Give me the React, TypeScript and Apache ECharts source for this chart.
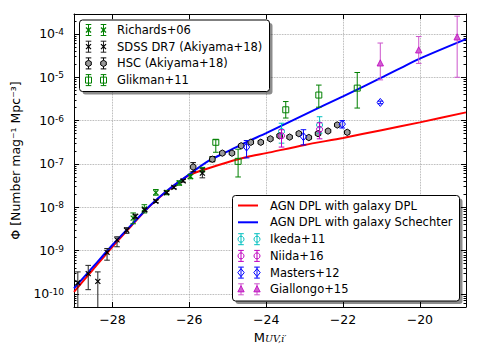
import React, { useEffect, useRef } from "react";
import * as echarts from "echarts";

// ---------- tick labels ----------
const xTickValues = [-28, -26, -24, -22, -20];
const yTickExponents = [-10, -9, -8, -7, -6, -5, -4];

// ---------- model curves (log10 Phi) ----------
const curveMag = [-29, -28.5, -28, -27.5, -27, -26.5, -26, -25.5, -25, -24.5, -24, -23, -22, -21, -20, -18.8];
const agnDplGalaxyDpl = [-9.95, -9.43, -8.91, -8.42, -7.95, -7.57, -7.26, -7.1, -6.96, -6.84, -6.75, -6.56, -6.4, -6.22, -6.04, -5.81];
const agnDplGalaxySchechter = [-9.87, -9.37, -8.87, -8.4, -7.94, -7.56, -7.24, -6.93, -6.71, -6.49, -6.29, -5.86, -5.44, -5.01, -4.57, -4.12];

// ---------- data points: [M, log10 Phi, log10 low, log10 high] ----------
const richards06 = [
  [-27.46, -8.25, -8.38, -8.13],
  [-27.17, -8.04, -8.13, -7.94],
  [-26.87, -7.66, -7.72, -7.59],
  [-26.59, -7.66, -7.71, -7.61],
  [-26.26, -7.44, -7.49, -7.39],
  [-25.97, -7.29, -7.34, -7.24],
  [-25.66, -7.13, -7.18, -7.08],
  [-25.4, -6.89, -6.94, -6.84],
];
const sdssDr7 = [
  [-28.9, -9.74, -10.5, -9.49],
  [-28.63, -9.53, -9.9, -9.34],
  [-28.38, -9.71, -10.5, -9.49],
  [-28.14, -9.04, -9.22, -8.95],
  [-27.88, -8.75, -8.91, -8.68],
  [-27.63, -8.53, -8.6, -8.47],
  [-27.4, -8.21, -8.26, -8.16],
  [-27.16, -8.06, -8.1, -8.02],
  [-26.87, -7.86, -7.89, -7.83],
  [-26.59, -7.66, -7.69, -7.63],
  [-26.4, -7.54, -7.57, -7.51],
  [-26.16, -7.39, -7.42, -7.36],
  [-25.66, -7.21, -7.32, -7.11],
];
const hscAkiyama = [
  [-25.9, -7.07, -7.18, -6.97],
  [-25.4, -6.89, -6.95, -6.83],
  [-25.14, -6.75, -6.78, -6.72],
  [-24.89, -6.75, -6.78, -6.72],
  [-24.65, -6.58, -6.61, -6.55],
  [-24.4, -6.5, -6.53, -6.47],
  [-24.14, -6.5, -6.53, -6.47],
  [-23.89, -6.42, -6.45, -6.39],
  [-23.65, -6.35, -6.38, -6.32],
  [-23.39, -6.38, -6.41, -6.35],
  [-23.15, -6.3, -6.33, -6.27],
  [-22.89, -6.39, -6.42, -6.36],
  [-22.65, -6.3, -6.33, -6.27],
  [-22.39, -6.24, -6.27, -6.21],
  [-22.15, -6.1, -6.13, -6.07],
  [-21.89, -6.27, -6.3, -6.24],
];
const glikman11 = [
  [-25.31, -6.5, -6.73, -6.44],
  [-24.73, -6.94, -7.3, -6.66],
  [-23.49, -5.75, -5.94, -5.56],
  [-22.63, -5.41, -5.69, -5.18],
  [-21.63, -5.25, -5.71, -4.89],
];
const ikeda11 = [
  [-23.6, -6.25, -6.52, -6.06],
  [-22.61, -6.1, -6.29, -5.91],
];
const niida16 = [
  [-23.6, -6.35, -6.61, -6.21],
  [-22.61, -6.2, -6.42, -6.05],
];
const masters12 = [
  [-24.51, -6.61, -6.86, -6.46],
  [-23.03, -6.37, -6.56, -6.21],
  [-22.02, -6.08, -6.17, -6.0],
  [-21.03, -5.58, -5.61, -5.55],
];
const giallongo15 = [
  [-21.03, -4.68, -5.06, -4.21],
  [-20.03, -4.38, -4.68, -4.06],
  [-19.03, -4.08, -5.0, -3.59],
];

// ---------- series names ----------
const curveNames = ["AGN DPL with galaxy DPL", "AGN DPL with galaxy Schechter"];
const upperLegendNames = ["Richards+06", "SDSS DR7 (Akiyama+18)", "HSC (Akiyama+18)", "Glikman+11"];
const lowerLegendNames = ["Ikeda+11", "Niida+16", "Masters+12", "Giallongo+15"];

type Kind = "x" | "hex" | "square" | "circle" | "diamond" | "triangle";
interface PtStyle {
  kind: Kind;
  color: string;
  fill: string;
  bar: string;
}

const FONT = "DejaVu Sans";
const curveColors = ["#ff0000", "#0000ff"];

const pointSets: { name: string; data: number[][]; st: PtStyle }[] = [
  { name: upperLegendNames[0], data: richards06, st: { kind: "x", color: "#008000", fill: "none", bar: "#008000" } },
  { name: upperLegendNames[1], data: sdssDr7, st: { kind: "x", color: "#000000", fill: "none", bar: "#222222" } },
  { name: upperLegendNames[2], data: hscAkiyama, st: { kind: "hex", color: "#000000", fill: "#9a9a9a", bar: "#000000" } },
  { name: upperLegendNames[3], data: glikman11, st: { kind: "square", color: "#008000", fill: "none", bar: "#008000" } },
  { name: lowerLegendNames[0], data: ikeda11, st: { kind: "circle", color: "#00bfbf", fill: "none", bar: "#00bfbf" } },
  { name: lowerLegendNames[1], data: niida16, st: { kind: "circle", color: "#bf00bf", fill: "none", bar: "#bf00bf" } },
  { name: lowerLegendNames[2], data: masters12, st: { kind: "diamond", color: "#0000ff", fill: "none", bar: "#0000ff" } },
  { name: lowerLegendNames[3], data: giallongo15, st: { kind: "triangle", color: "#bf00bf", fill: "#d060d0", bar: "#cc55cc" } },
];

function markerEls(kind: Kind, cx: number, cy: number, color: string, fill: string): any[] {
  const s = { stroke: color, lineWidth: 1, fill };
  switch (kind) {
    case "x":
      return [
        { type: "line", shape: { x1: cx - 2.5, y1: cy - 2.5, x2: cx + 2.5, y2: cy + 2.5 }, style: { stroke: color, lineWidth: 1.2 } },
        { type: "line", shape: { x1: cx - 2.5, y1: cy + 2.5, x2: cx + 2.5, y2: cy - 2.5 }, style: { stroke: color, lineWidth: 1.2 } },
      ];
    case "hex": {
      const pts: number[][] = [];
      for (let i = 0; i < 6; i++) {
        const a = Math.PI / 2 + (i * Math.PI) / 3;
        pts.push([cx + 3.2 * Math.cos(a), cy + 3.2 * Math.sin(a)]);
      }
      return [{ type: "polygon", shape: { points: pts }, style: s }];
    }
    case "square":
      return [{ type: "rect", shape: { x: cx - 3, y: cy - 3, width: 6, height: 6 }, style: s }];
    case "circle":
      return [{ type: "circle", shape: { cx, cy, r: 3 }, style: s }];
    case "diamond":
      return [{ type: "polygon", shape: { points: [[cx, cy - 4], [cx + 3.2, cy], [cx, cy + 4], [cx - 3.2, cy]] }, style: s }];
    case "triangle":
      return [{ type: "polygon", shape: { points: [[cx, cy - 3.6], [cx + 3.2, cy + 2.6], [cx - 3.2, cy + 2.6]] }, style: { ...s, lineWidth: 0.8 } }];
  }
  return [];
}

function errorBarEls(cx: number, yTop: number, yBot: number, color: string): any[] {
  const cap = 2.8;
  const st = { stroke: color, lineWidth: 1 };
  return [
    { type: "line", shape: { x1: cx, y1: yTop, x2: cx, y2: yBot }, style: st },
    { type: "line", shape: { x1: cx - cap, y1: yTop, x2: cx + cap, y2: yTop }, style: st },
    { type: "line", shape: { x1: cx - cap, y1: yBot, x2: cx + cap, y2: yBot }, style: st },
  ];
}

function makeRenderer(st: PtStyle) {
  return (_params: any, api: any) => {
    const x = api.value(0);
    const y = api.value(1);
    const lo = api.value(2);
    const hi = api.value(3);
    const c = api.coord([x, y]);
    const pLo = api.coord([x, lo])[1];
    const pHi = api.coord([x, hi])[1];
    return {
      type: "group",
      children: [...errorBarEls(c[0], pHi, pLo, st.bar), ...markerEls(st.kind, c[0], c[1], st.color, st.fill)],
    };
  };
}

const minorTicks: number[] = [];
for (let n = -11; n <= -4; n++) {
  for (let k = 2; k <= 9; k++) {
    const v = n + Math.log10(k);
    if (v > -10.3 && v < -3.54) minorTicks.push(v);
  }
}

function legendBox(x: number, y: number, w: number, h: number): any[] {
  return [
    { type: "rect", z: 50, shape: { x: x + 3, y: y + 3, width: w, height: h, r: 3 }, style: { fill: "rgba(0,0,0,0.45)" } },
    { type: "rect", z: 51, shape: { x, y, width: w, height: h, r: 3 }, style: { fill: "#ffffff", stroke: "#000000", lineWidth: 1 } },
  ];
}

function legendPointEntry(cy: number, x1: number, x2: number, tx: number, name: string, st: PtStyle): any[] {
  const els: any[] = [];
  [x1, x2].forEach((cx) => {
    els.push(...errorBarEls(cx, cy - 5.5, cy + 5.5, st.bar), ...markerEls(st.kind, cx, cy, st.color, st.fill));
  });
  els.push({ type: "text", x: tx, y: cy, style: { text: name, fontSize: 11.5, fontFamily: FONT, fill: "#000", verticalAlign: "middle", align: "left" } });
  return els.map((e) => ({ ...e, z: 52 }));
}

function buildGraphic(): any[] {
  const els: any[] = [];
  // upper-left legend
  els.push(...legendBox(79.5, 20, 190, 71.5));
  upperLegendNames.forEach((nm, i) => {
    const set = pointSets.find((p) => p.name === nm)!;
    els.push(...legendPointEntry(30 + i * 16.7, 88.5, 103.5, 117, nm, set.st));
  });
  // lower-right legend
  els.push(...legendBox(232.5, 195.5, 227, 105.5));
  curveNames.forEach((nm, i) => {
    const cy = 205.5 + i * 16.8;
    els.push({ type: "line", z: 52, shape: { x1: 238, y1: cy, x2: 258, y2: cy }, style: { stroke: curveColors[i], lineWidth: 2 } });
    els.push({ type: "text", z: 52, x: 270, y: cy, style: { text: nm, fontSize: 11.5, fontFamily: FONT, fill: "#000", verticalAlign: "middle", align: "left" } });
  });
  lowerLegendNames.forEach((nm, i) => {
    const set = pointSets.find((p) => p.name === nm)!;
    els.push(...legendPointEntry(239.2 + i * 16.7, 241, 257, 270, nm, set.st));
  });
  return els;
}

const minus = (v: number) => (v < 0 ? "\u2212" + Math.abs(v) : String(v));

export default function App() {
  const ref = useRef<HTMLDivElement>(null);
  useEffect(() => {
    document.body.style.margin = "0";
    if (!ref.current) return;
    const chart = echarts.init(ref.current, undefined, { renderer: "svg" });
    const axisLine = { show: true, lineStyle: { color: "#000", width: 1 } };
    const grid = { type: "dotted" as const, color: "#9a9a9a", width: 0.8 };
    const option: any = {
      animation: false,
      backgroundColor: "#ffffff",
      grid: { left: 74, top: 14, width: 392, height: 293 },
      xAxis: [
        {
          type: "value",
          position: "bottom",
          min: -29,
          max: -18.8,
          axisLine,
          axisTick: { show: true, inside: true, length: 5, customValues: xTickValues, lineStyle: { color: "#000" } },
          axisLabel: {
            customValues: xTickValues,
            formatter: (v: number) => minus(v),
            fontSize: 12.5,
            fontFamily: FONT,
            color: "#000",
            margin: 6,
          },
          splitLine: { show: true, customValues: xTickValues, lineStyle: grid },
          name: "{m|M}{s|UV,i\u2032}",
          nameLocation: "middle",
          nameGap: 22,
          nameTextStyle: {
            rich: {
              m: { fontSize: 13, fontFamily: FONT, color: "#000" },
              s: { fontSize: 9.5, fontFamily: "DejaVu Serif", fontStyle: "italic", color: "#000", verticalAlign: "bottom" },
            },
          },
        },
        {
          type: "value",
          position: "top",
          min: -29,
          max: -18.8,
          axisLine,
          axisTick: { show: true, inside: true, length: 5, customValues: xTickValues, lineStyle: { color: "#000" } },
          axisLabel: { show: false },
          splitLine: { show: false },
        },
      ],
      yAxis: [
        {
          type: "value",
          position: "left",
          min: -10.3,
          max: -3.54,
          axisLine,
          axisTick: { show: true, inside: true, length: 5, customValues: yTickExponents, lineStyle: { color: "#000" } },
          axisLabel: {
            customValues: yTickExponents,
            formatter: (v: number) => `{b|10}{s|${v}}`,
            margin: 10,
            rich: {
              b: { fontSize: 12.5, fontFamily: FONT, color: "#000" },
              s: { fontSize: 9, fontFamily: FONT, color: "#000", verticalAlign: "top" },
            },
          },
          splitLine: { show: true, customValues: yTickExponents, lineStyle: grid },
          name: "\u03a6 [Number mag\u207b\u00b9 Mpc\u207b\u00b3]",
          nameLocation: "middle",
          nameGap: 50,
          nameTextStyle: { fontSize: 12.5, fontFamily: FONT, color: "#000" },
        },
        {
          type: "value",
          position: "right",
          min: -10.3,
          max: -3.54,
          axisLine,
          axisTick: { show: true, inside: true, length: 5, customValues: yTickExponents, lineStyle: { color: "#000" } },
          axisLabel: { show: false },
          splitLine: { show: false },
        },
        {
          type: "value",
          position: "left",
          min: -10.3,
          max: -3.54,
          axisLine: { show: false },
          axisTick: { show: true, inside: true, length: 2.5, customValues: minorTicks, lineStyle: { color: "#000" } },
          axisLabel: { show: false },
          splitLine: { show: false },
        },
        {
          type: "value",
          position: "right",
          min: -10.3,
          max: -3.54,
          axisLine: { show: false },
          axisTick: { show: true, inside: true, length: 2.5, customValues: minorTicks, lineStyle: { color: "#000" } },
          axisLabel: { show: false },
          splitLine: { show: false },
        },
      ],
      series: [
        ...[agnDplGalaxyDpl, agnDplGalaxySchechter].map((vals, i) => ({
          type: "line",
          name: curveNames[i],
          data: curveMag.map((m, j) => [m, vals[j]]),
          smooth: 0.25,
          showSymbol: false,
          lineStyle: { color: curveColors[i], width: 2 },
          itemStyle: { color: curveColors[i] },
          z: 2 + i,
        })),
        ...pointSets.map((p) => ({
          type: "custom",
          name: p.name,
          data: p.data,
          clip: true,
          encode: { x: 0, y: 1 },
          renderItem: makeRenderer(p.st),
          z: 5,
        })),
      ],
      graphic: { elements: buildGraphic() },
    };
    chart.setOption(option);
    return () => chart.dispose();
  }, []);
  return <div ref={ref} style={{ width: 480, height: 360 }} />;
}
